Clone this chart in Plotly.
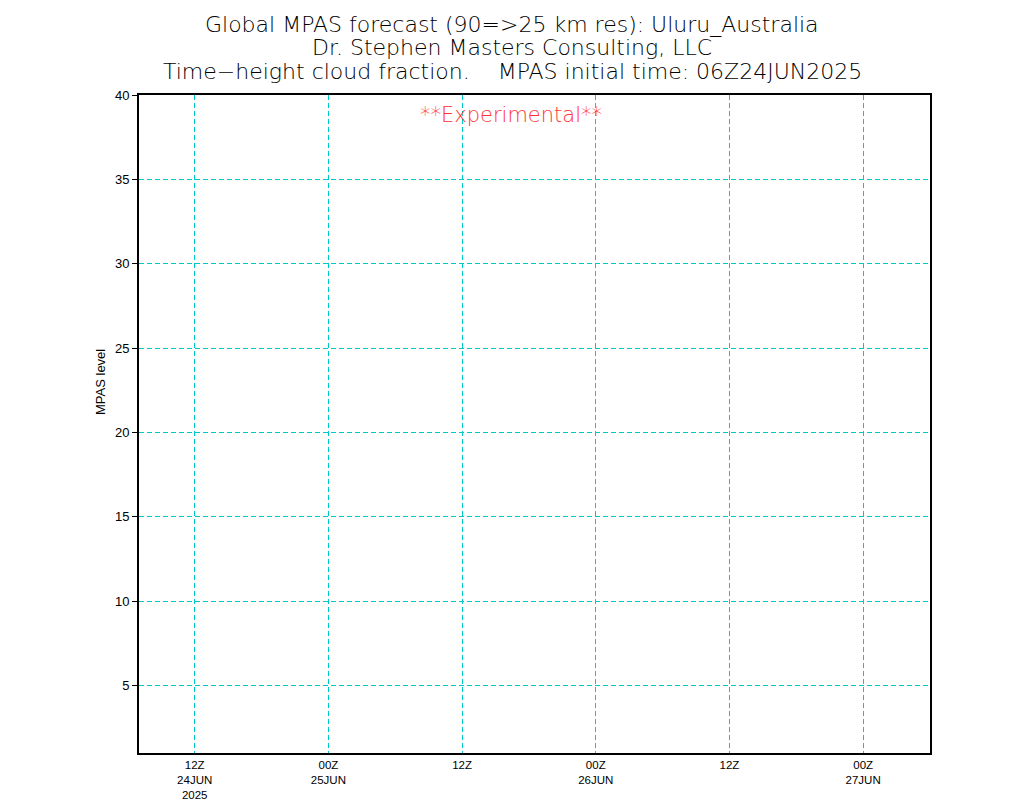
import plotly.graph_objects as go

# ---- data ----
x_start = "2025-06-24 07:00"
x_end = "2025-06-27 06:00"
tick_times = ["2025-06-24 12:00", "2025-06-25 00:00", "2025-06-25 12:00",
              "2025-06-26 00:00", "2025-06-26 12:00", "2025-06-27 00:00"]
tick_labels = ["12Z<br>24JUN<br>2025", "00Z<br>25JUN", "12Z",
               "00Z<br>26JUN", "12Z", "00Z<br>27JUN"]
level_ticks = [5, 10, 15, 20, 25, 30, 35, 40]
level_range = [1, 40]
title_lines = ["Global MPAS forecast (90=>25 km res): Uluru_Australia",
               "Dr. Stephen Masters Consulting, LLC",
               "Time\u2212height cloud fraction.    MPAS initial time: 06Z24JUN2025"]

FONT = "Liberation Sans"
TFONT = "DejaVu Sans"
GRID = "rgb(0,200,200)"

OFF = 8  # page body margin offset
L, R, T, B = 139 - OFF, 930 - OFF, 95 - OFF, 753 - OFF
W, H = 1024, 800

fig = go.Figure()
fig.add_trace(go.Scatter(x=[x_start, x_end], y=level_range, mode="markers",
                         marker=dict(opacity=0), hoverinfo="skip", showlegend=False))

fig.update_layout(
    width=W, height=H,
    margin=dict(l=L, r=W - R, t=T, b=H - B, autoexpand=False),
    paper_bgcolor="white", plot_bgcolor="white",
    showlegend=False,
    font=dict(family=FONT, color="black", size=13),
)

fig.update_xaxes(
    type="date", range=[x_start, x_end], automargin=False,
    tickmode="array", tickvals=tick_times, ticktext=tick_labels,
    showgrid=True, gridcolor=GRID, griddash="5px,3px", gridwidth=1,
    showline=True, linecolor="black", linewidth=2, mirror=True,
    ticks="", tickfont=dict(size=11.5, family=FONT), zeroline=False,
)
fig.update_yaxes(
    range=level_range, automargin=False,
    tickmode="array", tickvals=level_ticks,
    showgrid=True, gridcolor=GRID, griddash="5px,3px", gridwidth=1,
    showline=True, linecolor="black", linewidth=2, mirror=True,
    ticks="outside", ticklen=5, tickcolor="black", tickwidth=1,
    tickfont=dict(size=13, family=FONT), zeroline=False,
)

# y-axis title
fig.add_annotation(text="MPAS level", xref="paper", yref="paper",
                   x=0, xshift=-(L - (100 - OFF)), y=(B - (382 - OFF)) / (B - T),
                   textangle=-90, xanchor="center", yanchor="middle",
                   showarrow=False, font=dict(size=13, family=FONT, color="black"))

cx = ((512 - OFF) - L) / (R - L)
for line, cy in zip(title_lines, [24, 47, 71]):
    fig.add_annotation(text=line, xref="paper", yref="paper",
                       x=cx, y=1, yshift=T - (cy - OFF),
                       xanchor="center", yanchor="middle", showarrow=False,
                       font=dict(size=22, family=TFONT, color="black", weight=200))

fig.add_annotation(text="**Experimental**", xref="paper", yref="paper",
                   x=((511 - OFF) - L) / (R - L), y=(B - (115 - OFF)) / (B - T),
                   xanchor="center", yanchor="middle", showarrow=False,
                   font=dict(size=21, family=TFONT, color="rgb(255,50,50)", weight=200))

fig.write_html("out.html")
